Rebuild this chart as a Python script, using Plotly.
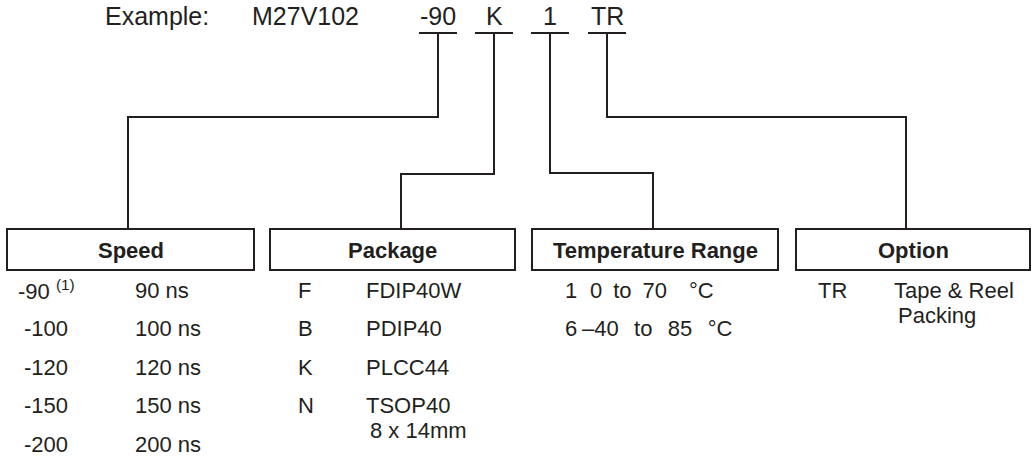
import plotly.graph_objects as go

# ---------------- data ----------------
example_label = "Example:"
example_part = "M27V102"
example_fields = ["-90", "K", "1", "TR"]

box_titles = ["Speed", "Package", "Temperature Range", "Option"]

speed_codes = ["-90", "-100", "-120", "-150", "-200"]
speed_values = ["90 ns", "100 ns", "120 ns", "150 ns", "200 ns"]
speed_note = "(1)"

package_codes = ["F", "B", "K", "N"]
package_values = ["FDIP40W", "PDIP40", "PLCC44", "TSOP40"]
package_extra = ["", "", "", "8 x 14mm"]

temp_codes = ["1", "6"]
temp_values = ["0\u2002to\u200270\u2002\u2002\u00b0C",
               "\u201340\u2002\u2009to\u2002\u200985\u2002\u2009\u00b0C"]

option_codes = ["TR"]
option_values = ["Tape & Reel"]
option_extra = ["Packing"]

# ---------------- layout geometry (pixels) ----------------
W, H = 1034, 461
INK = "#231f20"
FONT = "Liberation Sans, Arial, sans-serif"
FS = 22
FS_HEAD = 25

field_x = [438, 494, 550, 607]
field_half = 19
field_line_y = 33
field_text_y = 16

boxes = [(7, 254), (270, 515), (532, 778), (796, 1030)]
box_top, box_bot = 229, 270
elbow_y = [117, 174, 173, 117]
drop_x = [128, 401, 653, 906]

row0 = 290
row_step = 38.5
extra_dy = 25

fig = go.Figure()
shapes = []
ann = []

def line(x0, y0, x1, y1):
    shapes.append(dict(type="line", x0=x0, y0=y0, x1=x1, y1=y1, xref="x", yref="y",
                       line=dict(color=INK, width=2)))

def text(x, y, s, anchor="left", bold=False, size=FS):
    ann.append(dict(x=x, y=y, xref="x", yref="y", text=("<b>%s</b>" % s) if bold else s,
                    showarrow=False, xanchor=anchor, yanchor="middle",
                    font=dict(family=FONT, size=size, color=INK)))

# header
text(103, field_text_y, example_label, size=FS_HEAD)
text(250, field_text_y, example_part, size=FS_HEAD)
for i, f in enumerate(example_fields):
    text(field_x[i], field_text_y, f, anchor="center", size=FS_HEAD)
    line(field_x[i] - field_half, field_line_y, field_x[i] + field_half, field_line_y)

# connectors
for i in range(4):
    shapes.append(dict(type="path", xref="x", yref="y",
                       path="M %g %g L %g %g L %g %g L %g %g" % (
                           field_x[i], field_line_y, field_x[i], elbow_y[i],
                           drop_x[i], elbow_y[i], drop_x[i], box_top),
                       line=dict(color=INK, width=2)))

# boxes
for (x0, x1), t in zip(boxes, box_titles):
    shapes.append(dict(type="rect", x0=x0, x1=x1, y0=box_top, y1=box_bot, xref="x", yref="y",
                       line=dict(color=INK, width=2), fillcolor="rgba(0,0,0,0)"))
    text((x0 + x1) / 2, (box_top + box_bot) / 2 + 1, t, anchor="center", bold=True)

# speed column
speed_code_x = [16, 22, 22, 22, 22]
for i, (c, v) in enumerate(zip(speed_codes, speed_values)):
    y = row0 + i * row_step
    s = c + " <sup>%s</sup>" % speed_note if i == 0 else c
    text(speed_code_x[i], y, s)
    text(133, y, v)

# package column
for i, (c, v, e) in enumerate(zip(package_codes, package_values, package_extra)):
    y = row0 + i * row_step
    text(296, y, c)
    text(364, y, v)
    if e:
        text(368, y + extra_dy, e)

# temperature column
temp_val_x = [588, 580]
for i, (c, v) in enumerate(zip(temp_codes, temp_values)):
    y = row0 + i * row_step
    text(563, y, c)
    text(temp_val_x[i], y, v)

# option column
for i, (c, v, e) in enumerate(zip(option_codes, option_values, option_extra)):
    y = row0 + i * row_step
    text(816, y, c)
    text(892, y, v)
    text(896, y + extra_dy, e)

fig.update_layout(
    width=W, height=H, margin=dict(l=0, r=0, t=0, b=0),
    paper_bgcolor="white", plot_bgcolor="white",
    xaxis=dict(range=[0, W], visible=False, fixedrange=True),
    yaxis=dict(range=[H, 0], visible=False, fixedrange=True),
    shapes=shapes, annotations=ann, showlegend=False,
)
fig.write_html("out.html", config={"displayModeBar": False},
               post_script="document.body.style.margin='0';document.body.style.padding='0';")
